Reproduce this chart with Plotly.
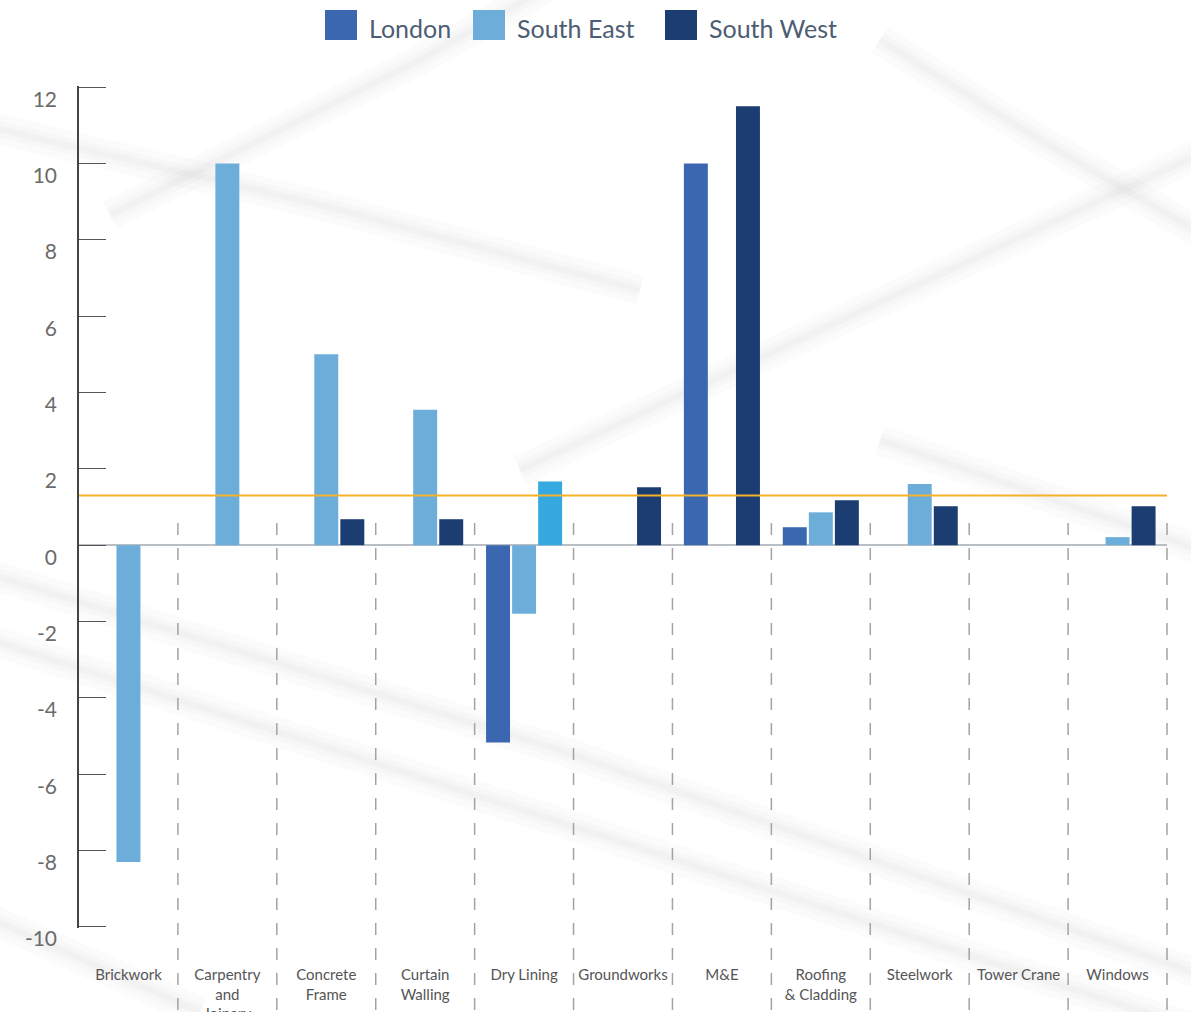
import plotly.graph_objects as go

# ---- data ----
categories = ["Brickwork", "Carpentry<br>and<br>Joinery", "Concrete<br>Frame",
              "Curtain<br>Walling", "Dry Lining", "Groundworks", "M&E",
              "Roofing<br>& Cladding", "Steelwork", "Tower Crane", "Windows"]
london = [0, 0, 0, 0, -5.17, 0, 10.0, 0.47, 0, 0, 0]
south_east = [-8.3, 10.0, 5.0, 3.55, -1.8, 0, 0, 0.86, 1.6, 0, 0.21]
south_west = [0, 0, 0.68, 0.68, 1.67, 1.52, 11.5, 1.18, 1.02, 0, 1.02]
average_line = 1.3
y_ticks = [12, 10, 8, 6, 4, 2, 0, -2, -4, -6, -8, -10]
series_names = ["London", "South East", "South West"]

# ---- styling ----
C_LONDON = "#3b67b1"
C_SE = "#6dadda"
C_SW = "#1b3d71"
C_HIGHLIGHT = "#35a9e0"
C_AVG = "#f6b22a"
FONT = "Lato"

W, H = 1191, 1012
ML, MR, MT, MB = 79, 24, 86, 84
PW, PH = W - ML - MR, H - MT - MB


def paper_x(px):
    return (px - ML) / PW


def paper_y(py):
    return (H - MB - py) / PH


sw_colors = [C_HIGHLIGHT if c == "Dry Lining" else C_SW for c in categories]

fig = go.Figure()
fig.add_bar(x=categories, y=london, name=series_names[0], marker_color=C_LONDON,
            marker_line_width=0)
fig.add_bar(x=categories, y=south_east, name=series_names[1], marker_color=C_SE,
            marker_line_width=0)
fig.add_bar(x=categories, y=south_west, name=series_names[2], marker_color=sw_colors,
            marker_line_width=0)

shapes = []

# soft background streaks
streaks = [
    [(-40, 565), (560, 750), (1230, 985)],
    [(-40, 630), (600, 835), (1230, 1040)],
    [(-40, 120), (320, 205), (640, 290)],
    [(110, 215), (420, 60), (560, -20)],
    [(880, 40), (1040, 140), (1230, 250)],
    [(880, 440), (1230, 560)],
    [(520, 470), (820, 330), (1230, 140)],
    [(-40, 905), (200, 1012)],
]
for pts in streaks:
    for width, op in [(30, 0.018), (16, 0.025), (7, 0.03)]:
        path = "M " + " L ".join(f"{paper_x(x):.4f},{paper_y(y):.4f}" for x, y in pts)
        shapes.append(dict(type="path", path=path, xref="paper", yref="paper",
                           line=dict(color="#7a7a7a", width=width), opacity=op,
                           layer="below"))

# dashed category separators, running below the plot area
n = len(categories)
for i in range(1, n + 1):
    shapes.append(dict(type="line", xref="paper", yref="paper",
                       x0=i / n, x1=i / n, y0=paper_y(523), y1=paper_y(1015),
                       line=dict(color="#a3a3a3", width=1.5, dash="12px,13px"),
                       layer="below"))

# average reference line
shapes.append(dict(type="line", xref="paper", yref="y", x0=0, x1=1,
                   y0=average_line, y1=average_line,
                   line=dict(color=C_AVG, width=2), layer="above"))

# custom legend
annotations = []
legend_items = [(325, C_LONDON, "London"), (473, C_SE, "South East"), (665, C_SW, "South West")]
for x0, col, label in legend_items:
    shapes.append(dict(type="rect", xref="paper", yref="paper",
                       x0=paper_x(x0), x1=paper_x(x0 + 32),
                       y0=paper_y(40), y1=paper_y(10),
                       fillcolor=col, line_width=0))
    annotations.append(dict(text=label, xref="paper", yref="paper",
                            x=paper_x(x0 + 42), y=paper_y(28), xanchor="left",
                            yanchor="middle", showarrow=False,
                            font=dict(family=FONT, size=25, color="#4d5d73")))

fig.update_layout(
    width=W, height=H,
    margin=dict(l=ML, r=MR, t=MT, b=MB, pad=0, autoexpand=False),
    paper_bgcolor="white", plot_bgcolor="rgba(0,0,0,0)",
    barmode="group", bargap=0.21, bargroupgap=0.08,
    showlegend=False,
    shapes=shapes, annotations=annotations,
    font=dict(family=FONT),
)

fig.update_xaxes(
    range=[-0.5, n - 0.5], showgrid=False, zeroline=False, showline=False,
    ticks="", tickfont=dict(family=FONT, size=15, color="#555555"),
    ticklabelstandoff=36, tickangle=0, automargin=False,
)

# a hair of padding so the end ticks at 12 and -10 are drawn
fig.update_yaxes(
    range=[-10.03, 12.03], showgrid=False,
    zeroline=True, zerolinecolor="#b9bfc5", zerolinewidth=2,
    showline=True, linecolor="#444444", linewidth=1.5,
    ticks="inside", ticklen=27, tickwidth=1.2, tickcolor="#555555",
    tickvals=y_ticks, ticktext=[str(v) for v in y_ticks],
    tickfont=dict(family=FONT, size=21, color="#6b6b6b"),
    ticklabelshift=12, ticklabelstandoff=16, automargin=False,
)

fig.write_html("out.html")
